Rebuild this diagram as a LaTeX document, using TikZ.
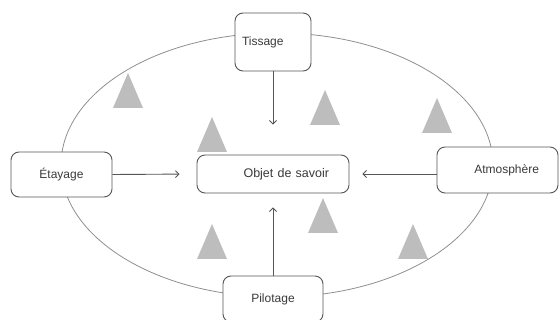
\documentclass[tikz,border=0pt]{standalone}
\usepackage{fontspec}
\setmainfont{Liberation Sans}
\usetikzlibrary{arrows.meta, calc, positioning}
\definecolor{boxline}{HTML}{555555}
\definecolor{ringline}{HTML}{8F8F8F}
\definecolor{trigray}{HTML}{BDBDBD}
\definecolor{txtgray}{HTML}{3A3A3A}
\tikzset{
	x=1pt, y=-1pt, semithick,
	>={Straight Barb[length=3.5pt, width=7pt]},
	pole/.style ={rectangle, rounded corners=8pt, draw=boxline, fill=white, line width=0.9pt,
		text=txtgray, font=\fontsize{12}{14}\selectfont, inner sep=0pt},
	arr/.style = {->, draw=boxline, line width=0.9pt},
	tri/.style = {fill=trigray}
}
\begin{document}
\begin{tikzpicture}
	\useasboundingbox (0,0) rectangle (560,320);
	
	% ring and triangles
	\draw[ringline, line width=0.8pt] (277,165) ellipse [x radius=216, y radius=132];
	\foreach \x/\y in {128/73, 212/117, 325/90, 437/98, 212/224, 323/198, 413/224}
		\fill[tri] (\x,\y) -- ++(15,35) -- ++(-30,0) -- cycle;
	
	\node[pole, minimum width=76, minimum height=58, text width=62, align=left] (tissage) at (273,42) {Tissage};
	\node[pole, minimum width=101, minimum height=45] (etayage) at (61.5,174.5) {Étayage};
	\node[pole, minimum width=152, minimum height=38, text width=112, align=right, font=\fontsize{12.5}{14}\selectfont] (objet) at (273,174) {Objet de savoir};
	\node[pole, minimum width=121, minimum height=46, text width=83, align=right] (atmos) at (497.5,170) {Atmosphère};
	\node[pole, minimum width=100, minimum height=46] (pilotage) at (273,299) {Pilotage};
	
	% Directed edge
	\path (tissage) edge[arr, shorten >=30pt] (objet);
	\path (etayage.east) edge[arr, shorten >=17pt] (objet.west);
	\path (atmos.west |- objet.east) edge[arr, shorten >=13pt] (objet.east);
	\path (pilotage) edge[arr, shorten >=14pt] (objet);
\end{tikzpicture}
\end{document}
